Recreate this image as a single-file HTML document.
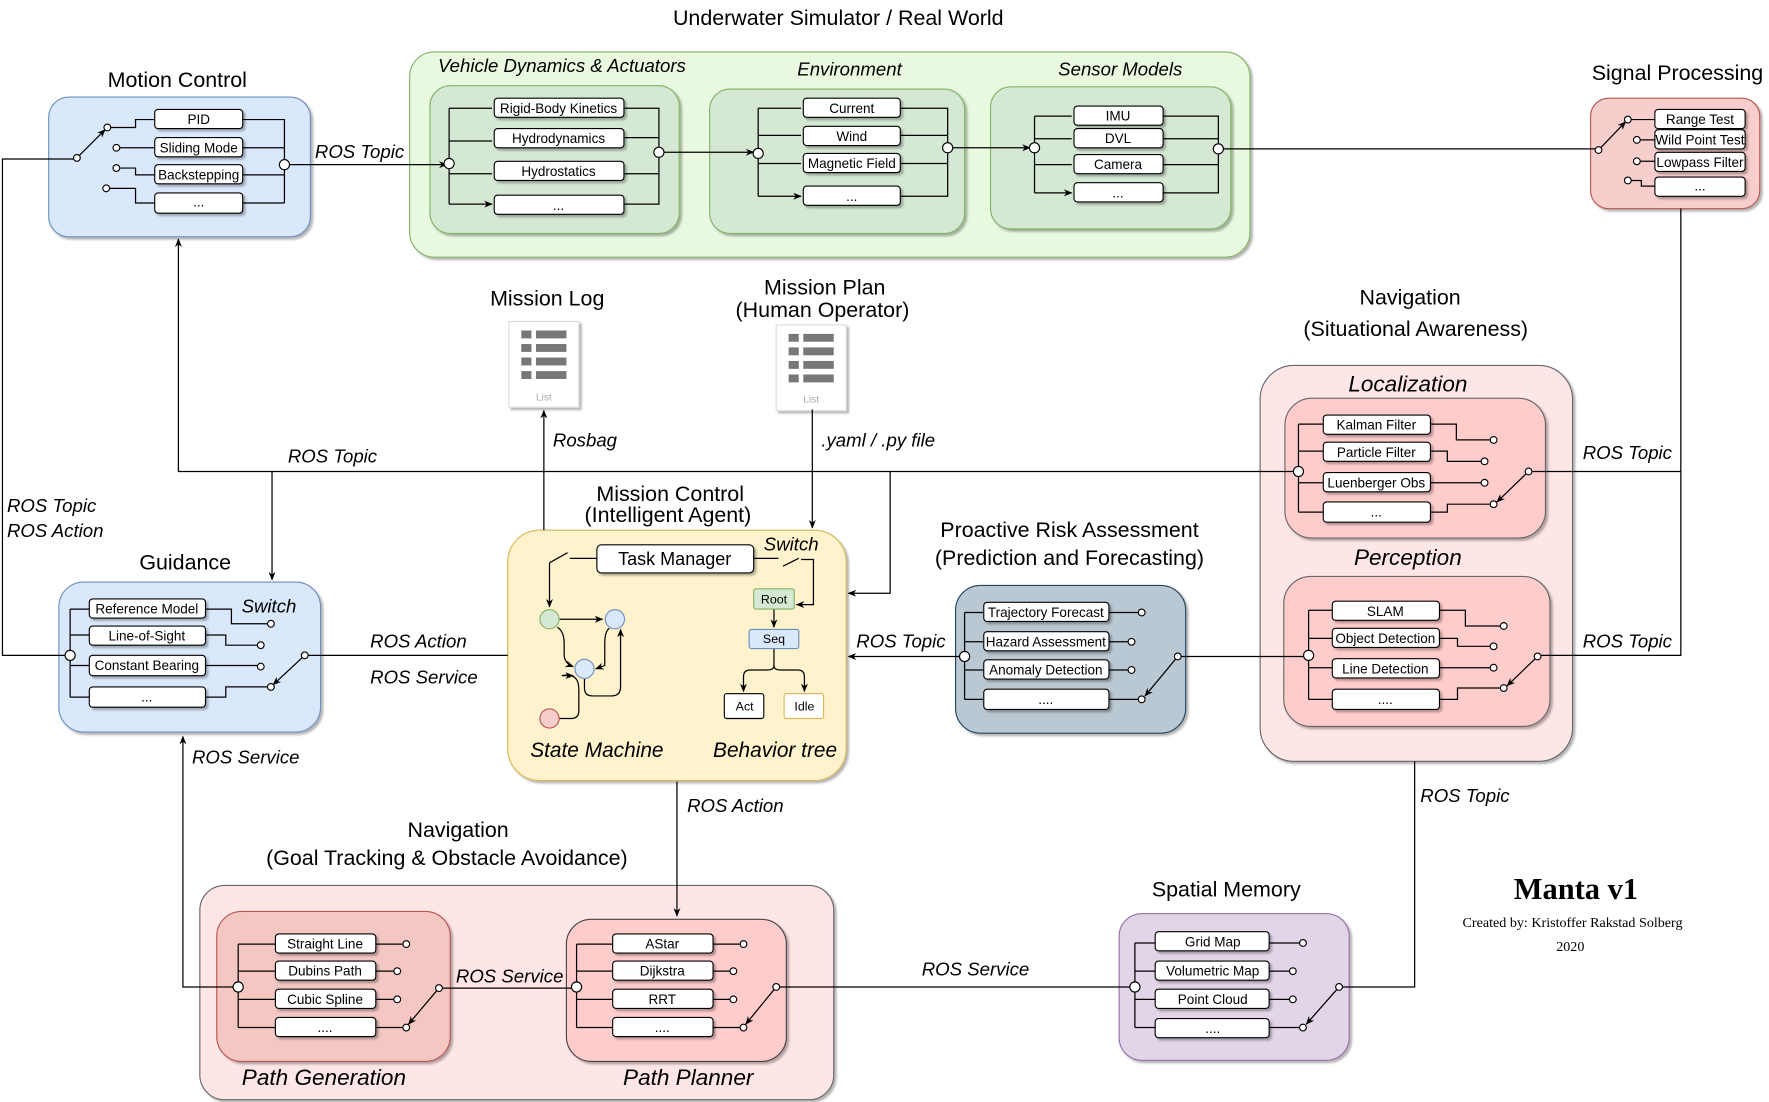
<!DOCTYPE html>
<html><head><meta charset="utf-8"><style>
html,body{margin:0;padding:0;background:#fff;}
svg{display:block;}
text{font-family:"Liberation Sans",sans-serif;fill:#000;}
.t{font-size:19px;text-anchor:middle;}
.i{font-size:16.5px;font-style:italic;}
.ic{font-size:16.5px;font-style:italic;text-anchor:middle;}
.it rect{fill:#fff;stroke:#000;stroke-width:1;}
.it text{font-size:12px;text-anchor:middle;}
.ln{fill:none;stroke:#000;stroke-width:1.1;}
.c{fill:#fff;stroke:#000;stroke-width:1;}
</style></head><body>
<svg width="1769" height="1102" viewBox="0 0 1568 977" xmlns="http://www.w3.org/2000/svg">
<defs>
<marker id="a" viewBox="0 0 10 10" refX="9" refY="5" markerWidth="7" markerHeight="7" orient="auto"><path d="M0,1 L10,5 L0,9 L3,5z" fill="#000"/></marker>
<filter id="s" x="-5%" y="-5%" width="115%" height="120%"><feDropShadow dx="2" dy="2" stdDeviation="1" flood-color="#000" flood-opacity="0.3"/></filter>
</defs>

<!-- Titles -->
<text class="t" x="743" y="22">Underwater Simulator / Real World</text>
<text class="t" x="157" y="77">Motion Control</text>
<text class="t" x="1487" y="71">Signal Processing</text>
<text class="t" x="485" y="271">Mission Log</text>
<text class="t" x="731" y="261">Mission Plan</text>
<text class="t" x="729" y="281">(Human Operator)</text>
<text class="t" x="1250" y="270">Navigation</text>
<text class="t" x="1255" y="298">(Situational Awareness)</text>
<text class="t" x="594" y="444">Mission Control</text>
<text class="t" x="592" y="463">(Intelligent Agent)</text>
<text class="t" x="948" y="476">Proactive Risk Assessment</text>
<text class="t" x="948" y="501">(Prediction and Forecasting)</text>
<text class="t" x="164" y="505">Guidance</text>
<text class="t" x="406" y="742">Navigation</text>
<text class="t" x="396" y="767">(Goal Tracking &amp; Obstacle Avoidance)</text>
<text class="t" x="1087" y="795">Spatial Memory</text>
<text style="font-family:'Liberation Serif',serif;font-weight:bold;font-size:27px;text-anchor:middle" x="1397" y="797">Manta v1</text>
<text style="font-family:'Liberation Serif',serif;font-size:12.5px;text-anchor:middle" x="1394" y="822">Created by: Kristoffer Rakstad Solberg</text>
<text style="font-family:'Liberation Serif',serif;font-size:12.5px;text-anchor:middle" x="1392" y="843">2020</text>

<!-- List icons -->
<g filter="url(#s)"><rect x="451" y="285" width="62" height="76" fill="#fff" stroke="#ddd"/><rect x="688" y="288" width="62" height="76" fill="#fff" stroke="#ddd"/></g>
<g fill="#777">
<rect x="462" y="293" width="9" height="7"/><rect x="475" y="293" width="27" height="7"/>
<rect x="462" y="305" width="9" height="7"/><rect x="475" y="305" width="27" height="7"/>
<rect x="462" y="317" width="9" height="7"/><rect x="475" y="317" width="27" height="7"/>
<rect x="462" y="329" width="9" height="7"/><rect x="475" y="329" width="27" height="7"/>
<rect x="699" y="296" width="9" height="7"/><rect x="712" y="296" width="27" height="7"/>
<rect x="699" y="308" width="9" height="7"/><rect x="712" y="308" width="27" height="7"/>
<rect x="699" y="320" width="9" height="7"/><rect x="712" y="320" width="27" height="7"/>
<rect x="699" y="332" width="9" height="7"/><rect x="712" y="332" width="27" height="7"/>
</g>
<text x="482" y="355" style="font-size:9px;fill:#aaa;text-anchor:middle">List</text>
<text x="719" y="357" style="font-size:9px;fill:#aaa;text-anchor:middle">List</text>

<!-- Motion Control -->
<rect x="43" y="86" width="232" height="124" rx="18" fill="#dae8fc" stroke="#6c8ebf" filter="url(#s)"/>
<g class="ln">
<path d="M215,106 H252 V180 M215,131 H252 M215,155 H252 M215,180 H252"/>
<path d="M137,106 H120 V113 H98 M137,131 H106 M137,155 H120 V149 H106 M137,180 H120 V167 H97"/>
<path d="M68,140 L93,115" marker-end="url(#a)"/>
</g>
<g class="it" filter="url(#s)">
<rect x="137" y="97" width="78" height="17" rx="3"/><rect x="137" y="122" width="78" height="17" rx="3"/><rect x="137" y="146" width="78" height="17" rx="3"/><rect x="137" y="171" width="78" height="18" rx="3"/>
</g>
<g class="it"><text x="176" y="110">PID</text><text x="176" y="135">Sliding Mode</text><text x="176" y="159">Backstepping</text><text x="176" y="183">...</text></g>

<!-- Simulator -->
<rect x="363" y="46" width="745" height="182" rx="22" fill="#e8f9e0" stroke="#82b366" filter="url(#s)"/>
<text class="ic" x="498" y="64">Vehicle Dynamics &amp; Actuators</text>
<text class="ic" x="753" y="67">Environment</text>
<text class="ic" x="993" y="67">Sensor  Models</text>
<g fill="#d5e8d4" stroke="#82b366" filter="url(#s)">
<rect x="381" y="76" width="221" height="131" rx="18"/>
<rect x="629" y="79" width="226" height="128" rx="18"/>
<rect x="878" y="77" width="213" height="126" rx="18"/>
</g>
<g class="ln">
<path d="M398,96 V181"/>
<path d="M398,96 H436 M398,125 H436 M398,154 H436 M398,181 H436" marker-end="url(#a)"/>
<path d="M553,96 H584 V130 M553,122 H584 M553,154 H584 V140 M553,181 H584 V140"/>
<path d="M588,135 H668" marker-end="url(#a)"/>
<path d="M672,96 V174"/>
<path d="M672,96 H710 M672,120 H710 M672,145 H710 M672,174 H710" marker-end="url(#a)"/>
<path d="M798,96 H840 V127 M798,120 H840 M798,145 H840 V136 M798,174 H840 V136"/>
<path d="M844,131 H913" marker-end="url(#a)"/>
<path d="M917,103 V171"/>
<path d="M917,103 H950 M917,123 H950 M917,146 H950 M917,171 H950" marker-end="url(#a)"/>
<path d="M1031,103 H1080 V128 M1031,123 H1080 M1031,146 H1080 V137 M1031,171 H1080 V137"/>
</g>
<g class="it" filter="url(#s)">
<rect x="438" y="87" width="115" height="17" rx="3"/><rect x="438" y="114" width="115" height="17" rx="3"/><rect x="438" y="143" width="115" height="17" rx="3"/><rect x="438" y="173" width="115" height="17" rx="3"/>
<rect x="712" y="87" width="86" height="17" rx="3"/><rect x="712" y="112" width="86" height="17" rx="3"/><rect x="712" y="136" width="86" height="17" rx="3"/><rect x="712" y="165" width="86" height="17" rx="3"/>
<rect x="952" y="94" width="79" height="17" rx="3"/><rect x="952" y="114" width="79" height="17" rx="3"/><rect x="952" y="137" width="79" height="17" rx="3"/><rect x="952" y="162" width="79" height="17" rx="3"/>
</g>
<g class="it">
<text x="495" y="100">Rigid-Body Kinetics</text><text x="495" y="127">Hydrodynamics</text><text x="495" y="156">Hydrostatics</text><text x="495" y="186">...</text>
<text x="755" y="100">Current</text><text x="755" y="125">Wind</text><text x="755" y="149">Magnetic Field</text><text x="755" y="178">...</text>
<text x="991" y="107">IMU</text><text x="991" y="127">DVL</text><text x="991" y="150">Camera</text><text x="991" y="175">...</text>
</g>

<!-- Signal Processing -->
<rect x="1410" y="87" width="150" height="98" rx="16" fill="#f8cecc" stroke="#b85450" filter="url(#s)"/>
<g class="ln">
<path d="M1467,106 H1446 M1467,124 H1454 M1467,143 H1454 M1467,165 H1455 V160 H1446"/>
<path d="M1417,133 L1441,108" marker-end="url(#a)"/>
</g>
<g class="it" filter="url(#s)">
<rect x="1467" y="97" width="80" height="17" rx="3"/><rect x="1467" y="115" width="80" height="17" rx="3"/><rect x="1467" y="135" width="80" height="17" rx="3"/><rect x="1467" y="157" width="80" height="17" rx="3"/>
</g>
<g class="it"><text x="1507" y="110">Range Test</text><text x="1507" y="128">Wild Point Test</text><text x="1507" y="148">Lowpass Filter</text><text x="1507" y="169">...</text></g>

<!-- Navigation (situational awareness) -->
<rect x="1117" y="324" width="277" height="351" rx="30" fill="#ffe6e6" stroke="#666" filter="url(#s)"/>
<text class="ic" x="1248" y="347" style="font-size:20px">Localization</text>
<text class="ic" x="1248" y="501" style="font-size:20px">Perception</text>
<g fill="#ffcccc" stroke="#666" filter="url(#s)">
<rect x="1139" y="353" width="231" height="124" rx="24"/>
<rect x="1138" y="511" width="236" height="133" rx="24"/>
</g>
<g class="ln">
<path d="M1151,376 V454 M1151,376 H1173 M1151,400 H1173 M1151,428 H1173 M1151,454 H1173"/>
<path d="M1268,376 H1291 V390 H1321 M1268,400 H1283 V409 H1313 M1268,428 H1313 M1268,454 H1283 V447 H1321"/>
<path d="M1355,418 L1327,445" marker-end="url(#a)"/>
<path d="M1160,541 V620 M1160,541 H1181 M1160,566 H1181 M1160,592 H1181 M1160,620 H1181"/>
<path d="M1276,541 H1299 V555 H1330 M1276,566 H1292 V573 H1321 M1276,592 H1321 M1276,620 H1292 V610 H1330"/>
<path d="M1363,582 L1336,608" marker-end="url(#a)"/>
</g>
<g class="it" filter="url(#s)">
<rect x="1173" y="368" width="95" height="17" rx="3"/><rect x="1173" y="392" width="95" height="17" rx="3"/><rect x="1173" y="419" width="95" height="17" rx="3"/><rect x="1173" y="445" width="95" height="18" rx="3"/>
<rect x="1181" y="533" width="95" height="17" rx="3"/><rect x="1181" y="557" width="95" height="17" rx="3"/><rect x="1181" y="584" width="95" height="17" rx="3"/><rect x="1181" y="611" width="95" height="18" rx="3"/>
</g>
<g class="it">
<text x="1220" y="381">Kalman Filter</text><text x="1220" y="405">Particle Filter</text><text x="1220" y="432">Luenberger Obs</text><text x="1220" y="458">...</text>
<text x="1228" y="546">SLAM</text><text x="1228" y="570">Object Detection</text><text x="1228" y="597">Line Detection</text><text x="1228" y="624">....</text>
</g>

<!-- PRA -->
<rect x="847" y="519" width="204" height="131" rx="22" fill="#bac8d3" stroke="#23445d" filter="url(#s)"/>
<g class="ln">
<path d="M855,543 V620 M855,543 H872 M855,569 H872 M855,594 H872 M855,620 H872"/>
<path d="M983,543 H1009 M983,569 H1000 M983,594 H1000 M983,620 H1009"/>
<path d="M1044,582 L1015,617" marker-end="url(#a)"/>
</g>
<g class="it" filter="url(#s)">
<rect x="872" y="534" width="111" height="17" rx="3"/><rect x="872" y="560" width="111" height="17" rx="3"/><rect x="872" y="585" width="111" height="17" rx="3"/><rect x="872" y="611" width="111" height="18" rx="3"/>
</g>
<g class="it"><text x="927" y="547">Trajectory Forecast</text><text x="927" y="573">Hazard Assessment</text><text x="927" y="598">Anomaly Detection</text><text x="927" y="624">....</text></g>

<!-- Guidance -->
<rect x="52" y="516" width="232" height="133" rx="22" fill="#dae8fc" stroke="#6c8ebf" filter="url(#s)"/>
<text class="i" x="214" y="543">Switch</text>
<g class="ln">
<path d="M62,540 V618 M62,540 H79 M62,563 H79 M62,590 H79 M62,618 H79"/>
<path d="M182,540 H205 V553 H237 M182,563 H200 V572 H228 M182,590 H228 M182,618 H200 V609 H237"/>
<path d="M270,581 L242,607" marker-end="url(#a)"/>
</g>
<g class="it" filter="url(#s)">
<rect x="79" y="531" width="103" height="17" rx="3"/><rect x="79" y="555" width="103" height="17" rx="3"/><rect x="79" y="581" width="103" height="18" rx="3"/><rect x="79" y="609" width="103" height="18" rx="3"/>
</g>
<g class="it"><text x="130" y="544">Reference Model</text><text x="130" y="568">Line-of-Sight</text><text x="130" y="594">Constant Bearing</text><text x="130" y="622">...</text></g>

<!-- Mission Control -->
<rect x="450" y="470" width="300" height="222" rx="28" fill="#fff2cc" stroke="#d6b656" filter="url(#s)"/>
<text class="i" x="677" y="488">Switch</text>
<rect x="529" y="483" width="139" height="25" rx="4" fill="#fff" stroke="#000" filter="url(#s)"/>
<text x="598" y="501" style="font-size:16px;text-anchor:middle">Task Manager</text>
<g class="ln">
<path d="M529,495 H505 M487,499 L503,490" />
<path d="M487,499 V538" marker-end="url(#a)"/>
<path d="M668,495 H690 M694,502 L708,495 M710,496 H721 V536 H706" marker-end="url(#a)"/>
<path d="M686,540 V556" marker-end="url(#a)"/>
<path d="M686,575 V590 Q686,594 680,594 H665 Q659,594 659,600 V613" marker-end="url(#a)"/>
<path d="M686,590 Q686,594 692,594 H707 Q713,594 713,600 V613" marker-end="url(#a)"/>
<path d="M496,549 H534" marker-end="url(#a)"/>
<path d="M494,556 Q500,560 500,570 V580 Q500,588 508,591" marker-end="url(#a)"/>
<path d="M540,557 Q536,560 536,570 V590 L528,593" marker-end="url(#a)"/>
<path d="M518,602 V610 Q518,617 525,617 H542 Q550,617 550,609 V558" marker-end="url(#a)"/>
<path d="M495,637 H506 Q513,637 513,630 V611 Q513,596 498,599 H508" marker-end="url(#a)"/>
</g>
<circle cx="487" cy="549" r="8.5" fill="#d5e8d4" stroke="#82b366"/>
<circle cx="545" cy="549" r="8.5" fill="#dae8fc" stroke="#6c8ebf"/>
<circle cx="518" cy="593" r="8.5" fill="#dae8fc" stroke="#6c8ebf"/>
<circle cx="487" cy="637" r="8.5" fill="#f8cecc" stroke="#b85450"/>
<rect x="668" y="522" width="36" height="18" rx="2" fill="#d5e8d4" stroke="#82b366"/>
<rect x="664" y="558" width="44" height="17" rx="2" fill="#dae8fc" stroke="#6c8ebf"/>
<rect x="642" y="615" width="35" height="22" rx="2" fill="#fff" stroke="#000"/>
<rect x="695" y="615" width="35" height="22" rx="2" fill="#fff" stroke="#d6b656"/>
<g style="font-size:11px;text-anchor:middle"><text x="686" y="535">Root</text><text x="686" y="570">Seq</text><text x="660" y="630">Act</text><text x="713" y="630">Idle</text></g>
<text class="ic" x="529" y="671" style="font-size:18.5px">State Machine</text>
<text class="ic" x="687" y="671" style="font-size:18.5px">Behavior tree</text>

<!-- Nav goal tracking -->
<rect x="177" y="785" width="562" height="190" rx="22" fill="#ffe6e6" stroke="#666" filter="url(#s)"/>
<rect x="192" y="808" width="207" height="133" rx="22" fill="#f4c7c3" stroke="#b85450" filter="url(#s)"/>
<rect x="502" y="815" width="195" height="126" rx="22" fill="#ffcccc" stroke="#444" filter="url(#s)"/>
<text class="ic" x="287" y="962" style="font-size:20px">Path Generation</text>
<text class="ic" x="610" y="962" style="font-size:20px">Path Planner</text>
<!-- Spatial memory -->
<rect x="992" y="810" width="204" height="130" rx="20" fill="#e1d5e7" stroke="#9673a6" filter="url(#s)"/>
<g class="ln">
<path d="M211,837 V911 M211,837 H244 M211,861 H244 M211,886 H244 M211,911 H244"/>
<path d="M333,837 H357 M333,861 H349 M333,886 H349 M333,911 H357"/>
<path d="M389,876 L362,908" marker-end="url(#a)"/>
<path d="M511,837 V911 M511,837 H543 M511,861 H543 M511,886 H543 M511,911 H543"/>
<path d="M632,837 H656 M632,861 H647 M632,886 H647 M632,911 H656"/>
<path d="M688,875 L661,908" marker-end="url(#a)"/>
<path d="M1006,836 V911 M1006,836 H1024 M1006,861 H1024 M1006,886 H1024 M1006,911 H1024"/>
<path d="M1125,836 H1152 M1125,861 H1143 M1125,886 H1143 M1125,911 H1152"/>
<path d="M1187,875 L1158,908" marker-end="url(#a)"/>
</g>
<g class="it" filter="url(#s)">
<rect x="244" y="828" width="89" height="17" rx="3"/><rect x="244" y="852" width="89" height="17" rx="3"/><rect x="244" y="877" width="89" height="17" rx="3"/><rect x="244" y="902" width="89" height="17" rx="3"/>
<rect x="543" y="828" width="89" height="17" rx="3"/><rect x="543" y="852" width="89" height="17" rx="3"/><rect x="543" y="877" width="89" height="17" rx="3"/><rect x="543" y="902" width="89" height="17" rx="3"/>
<rect x="1024" y="826" width="101" height="17" rx="3"/><rect x="1024" y="852" width="101" height="17" rx="3"/><rect x="1024" y="877" width="101" height="17" rx="3"/><rect x="1024" y="903" width="101" height="17" rx="3"/>
</g>
<g class="it">
<text x="288" y="841">Straight Line</text><text x="288" y="865">Dubins Path</text><text x="288" y="890">Cubic Spline</text><text x="288" y="915">....</text>
<text x="587" y="841">AStar</text><text x="587" y="865">Dijkstra</text><text x="587" y="890">RRT</text><text x="587" y="915">....</text>
<text x="1075" y="839">Grid Map</text><text x="1075" y="865">Volumetric Map</text><text x="1075" y="890">Point Cloud</text><text x="1075" y="916">....</text>
</g>

<!-- Connector lines (on top) -->
<g class="ln">
<path d="M252,146 H396" marker-end="url(#a)"/>
<path d="M1080,132 H1417"/>
<path d="M1490,185 V581 H1363"/>
<path d="M1490,418 H1355"/>
<path d="M1151,418 H158 V212" marker-end="url(#a)"/>
<path d="M241,418 V514" marker-end="url(#a)"/>
<path d="M789,418 V526 H752" marker-end="url(#a)"/>
<path d="M62,581 H2 V141 H68"/>
<path d="M270,581 H450"/>
<path d="M482,470 V364" marker-end="url(#a)"/>
<path d="M720,363 V468" marker-end="url(#a)"/>
<path d="M1044,582 H1160"/>
<path d="M855,582 H752" marker-end="url(#a)"/>
<path d="M600,693 V812" marker-end="url(#a)"/>
<path d="M211,875 H162 V653" marker-end="url(#a)"/>
<path d="M389,876 H511"/>
<path d="M688,875 H1006"/>
<path d="M1187,875 H1254 V675"/>
</g>
<text class="i" x="279" y="140">ROS Topic</text>
<text class="i" x="255" y="410">ROS Topic</text>
<text class="i" x="6" y="454">ROS Topic</text>
<text class="i" x="6" y="476">ROS Action</text>
<text class="i" x="328" y="574">ROS Action</text>
<text class="i" x="328" y="606">ROS Service</text>
<text class="i" x="490" y="396">Rosbag</text>
<text class="i" x="728" y="396">.yaml / .py file</text>
<text class="i" x="759" y="574">ROS Topic</text>
<text class="i" x="1403" y="407">ROS Topic</text>
<text class="i" x="1403" y="574">ROS Topic</text>
<text class="i" x="170" y="677">ROS Service</text>
<text class="i" x="609" y="720">ROS Action</text>
<text class="i" x="1259" y="711">ROS Topic</text>
<text class="i" x="404" y="871">ROS Service</text>
<text class="i" x="817" y="865">ROS Service</text>

<!-- Circles (topmost) -->
<g class="c">
<circle cx="252" cy="146" r="4.5"/><circle cx="68" cy="140" r="3"/><circle cx="95" cy="113" r="3"/><circle cx="103" cy="131" r="3"/><circle cx="103" cy="149" r="3"/><circle cx="94" cy="167" r="3"/>
<circle cx="398" cy="145" r="4.5"/><circle cx="584" cy="135" r="4.5"/><circle cx="672" cy="136" r="4.5"/><circle cx="840" cy="131" r="4.5"/><circle cx="917" cy="131" r="4.5"/><circle cx="1080" cy="132" r="4.5"/>
<circle cx="1417" cy="133" r="3"/><circle cx="1443" cy="106" r="3"/><circle cx="1451" cy="124" r="3"/><circle cx="1451" cy="143" r="3"/><circle cx="1443" cy="160" r="3"/>
<circle cx="1151" cy="418" r="4.5"/><circle cx="1324" cy="390" r="3"/><circle cx="1316" cy="409" r="3"/><circle cx="1316" cy="428" r="3"/><circle cx="1324" cy="447" r="3"/><circle cx="1355" cy="418" r="3"/>
<circle cx="1160" cy="581" r="4.5"/><circle cx="1333" cy="555" r="3"/><circle cx="1324" cy="573" r="3"/><circle cx="1324" cy="592" r="3"/><circle cx="1333" cy="610" r="3"/><circle cx="1363" cy="582" r="3"/>
<circle cx="855" cy="582" r="4.5"/><circle cx="1012" cy="543" r="3"/><circle cx="1003" cy="569" r="3"/><circle cx="1003" cy="594" r="3"/><circle cx="1012" cy="620" r="3"/><circle cx="1044" cy="582" r="3"/>
<circle cx="62" cy="581" r="4.5"/><circle cx="240" cy="553" r="3"/><circle cx="231" cy="572" r="3"/><circle cx="231" cy="591" r="3"/><circle cx="240" cy="609" r="3"/><circle cx="270" cy="581" r="3"/>
<circle cx="211" cy="875" r="4.5"/><circle cx="360" cy="837" r="3"/><circle cx="352" cy="861" r="3"/><circle cx="352" cy="886" r="3"/><circle cx="360" cy="911" r="3"/><circle cx="389" cy="876" r="3"/>
<circle cx="511" cy="875" r="4.5"/><circle cx="659" cy="837" r="3"/><circle cx="650" cy="861" r="3"/><circle cx="650" cy="886" r="3"/><circle cx="659" cy="911" r="3"/><circle cx="688" cy="875" r="3"/>
<circle cx="1006" cy="875" r="4.5"/><circle cx="1155" cy="836" r="3"/><circle cx="1146" cy="861" r="3"/><circle cx="1146" cy="886" r="3"/><circle cx="1155" cy="911" r="3"/><circle cx="1187" cy="875" r="3"/>
</g>
</svg>
</body></html>
